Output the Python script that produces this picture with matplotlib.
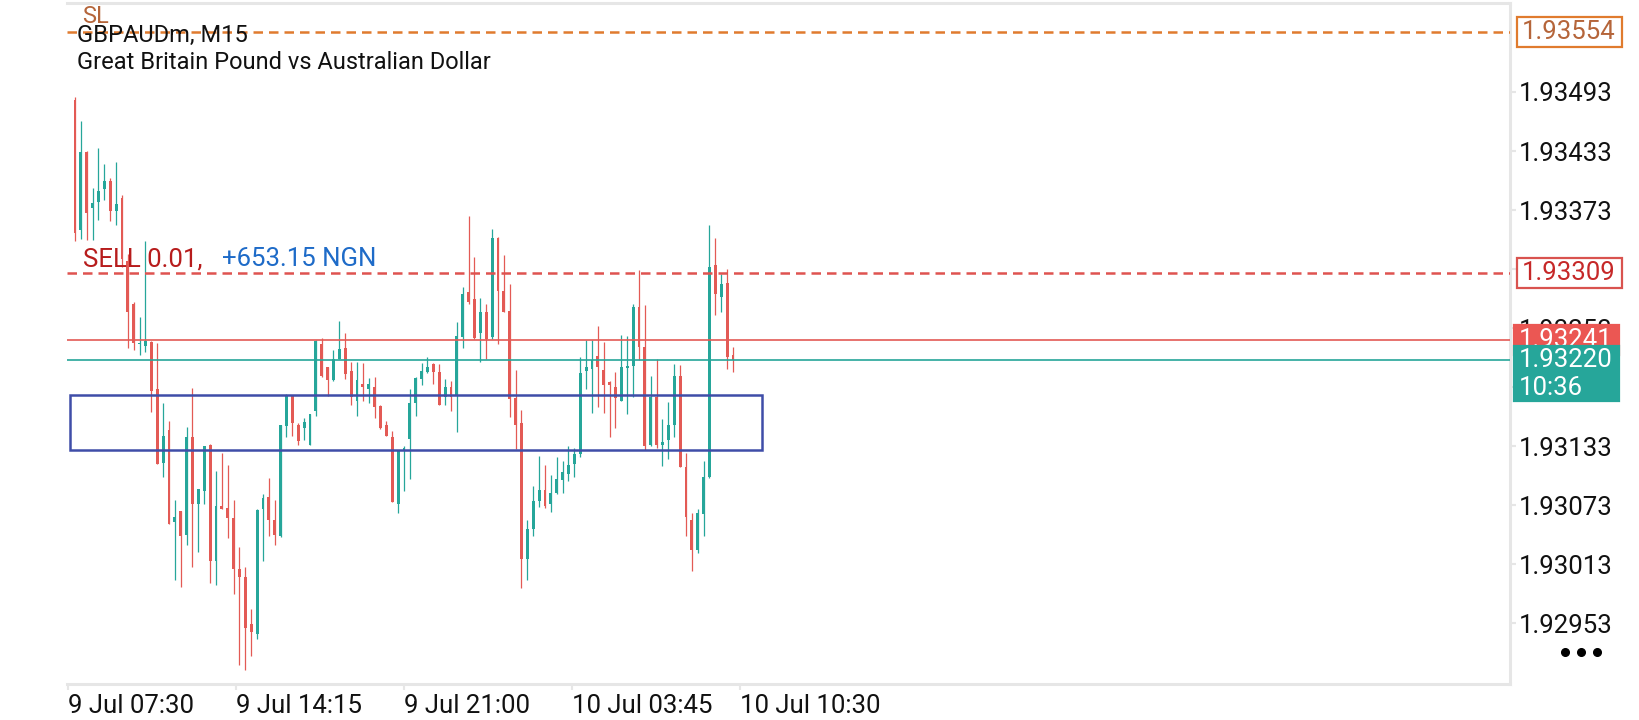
import numpy as np
import matplotlib.pyplot as plt
import matplotlib.transforms as mtransforms
from matplotlib.patches import Rectangle
from matplotlib.lines import Line2D

plt.rcParams['font.family'] = ['Roboto', 'DejaVu Sans']

# GBPAUDm M15 candles (oldest first)
opens = [1.93485, 1.93353, 1.93432, 1.93375, 1.93381, 1.93394, 1.93402, 1.93372, 1.93385, 1.93321,
         1.93277, 1.93237, 1.93235, 1.93239, 1.93191, 1.93116, 1.93149, 1.93056, 1.93067, 1.93043,
         1.93142, 1.93074, 1.93087, 1.93134, 1.93016, 1.93072, 1.93070, 1.93060, 1.93008, 1.93000,
         1.92952, 1.92942, 1.93069, 1.93081, 1.93058, 1.93041, 1.93153, 1.93184, 1.93154, 1.93151,
         1.93134, 1.93169, 1.93237, 1.93213, 1.93200, 1.93221, 1.93233, 1.93209, 1.93179, 1.93196,
         1.93191, 1.93193, 1.93174, 1.93154, 1.93142, 1.93074, 1.93128, 1.93140, 1.93177, 1.93201,
         1.93208, 1.93216, 1.93208, 1.93183, 1.93193, 1.93184, 1.93244, 1.93290, 1.93282, 1.93248,
         1.93269, 1.93244, 1.93345, 1.93291, 1.93270, 1.93182, 1.93156, 1.93018, 1.93049, 1.93077,
         1.93088, 1.93074, 1.93085, 1.93098, 1.93105, 1.93115, 1.93125, 1.93209, 1.93211, 1.93225,
         1.93210, 1.93198, 1.93193, 1.93179, 1.93212, 1.93214, 1.93274, 1.93234, 1.93134, 1.93183,
         1.93134, 1.93139, 1.93154, 1.93204, 1.93112, 1.93058, 1.93027, 1.93064, 1.93101, 1.93317,
         1.93285, 1.93299, 1.93226]
highs = [1.93488, 1.93463, 1.93433, 1.93395, 1.93436, 1.93420, 1.93406, 1.93422, 1.93388, 1.93328,
         1.93279, 1.93264, 1.93341, 1.93240, 1.93238, 1.93177, 1.93158, 1.93078, 1.93067, 1.93152,
         1.93192, 1.93089, 1.93133, 1.93135, 1.93108, 1.93126, 1.93114, 1.93078, 1.93030, 1.93010,
         1.92967, 1.93069, 1.93084, 1.93100, 1.93078, 1.93154, 1.93186, 1.93185, 1.93156, 1.93162,
         1.93166, 1.93241, 1.93243, 1.93213, 1.93231, 1.93260, 1.93248, 1.93218, 1.93218, 1.93217,
         1.93202, 1.93203, 1.93175, 1.93158, 1.93148, 1.93129, 1.93133, 1.93191, 1.93203, 1.93217,
         1.93224, 1.93217, 1.93216, 1.93201, 1.93199, 1.93259, 1.93295, 1.93367, 1.93325, 1.93284,
         1.93277, 1.93354, 1.93346, 1.93327, 1.93298, 1.93210, 1.93170, 1.93058, 1.93092, 1.93123,
         1.93114, 1.93104, 1.93122, 1.93118, 1.93133, 1.93131, 1.93224, 1.93241, 1.93241, 1.93255,
         1.93239, 1.93199, 1.93208, 1.93246, 1.93245, 1.93277, 1.93312, 1.93276, 1.93204, 1.93221,
         1.93160, 1.93178, 1.93216, 1.93215, 1.93126, 1.93065, 1.93069, 1.93118, 1.93358, 1.93345,
         1.93308, 1.93313, 1.93234]
lows = [1.93341, 1.93344, 1.93342, 1.93342, 1.93363, 1.93383, 1.93362, 1.93358, 1.93315, 1.93233,
        1.93231, 1.93226, 1.93229, 1.93168, 1.93115, 1.93101, 1.93054, 1.92997, 1.92990, 1.93032,
        1.93010, 1.93025, 1.93074, 1.92994, 1.92992, 1.93069, 1.93039, 1.92983, 1.92910, 1.92905,
        1.92919, 1.92937, 1.93016, 1.93041, 1.93032, 1.93040, 1.93142, 1.93143, 1.93134, 1.93139,
        1.93134, 1.93164, 1.93203, 1.93184, 1.93199, 1.93221, 1.93201, 1.93175, 1.93164, 1.93179,
        1.93177, 1.93162, 1.93150, 1.93143, 1.93076, 1.93065, 1.93087, 1.93099, 1.93164, 1.93195,
        1.93207, 1.93196, 1.93175, 1.93175, 1.93169, 1.93147, 1.93233, 1.93277, 1.93242, 1.93218,
        1.93221, 1.93242, 1.93237, 1.93269, 1.93163, 1.93130, 1.92989, 1.92997, 1.93042, 1.93071,
        1.93070, 1.93066, 1.93084, 1.93085, 1.93097, 1.93102, 1.93122, 1.93191, 1.93167, 1.93173,
        1.93167, 1.93142, 1.93151, 1.93179, 1.93166, 1.93183, 1.93220, 1.93129, 1.93133, 1.93131,
        1.93113, 1.93120, 1.93142, 1.93112, 1.93041, 1.93006, 1.93024, 1.93041, 1.93100, 1.93266,
        1.93269, 1.93211, 1.93208]
closes = [1.93350, 1.93432, 1.93370, 1.93380, 1.93392, 1.93403, 1.93372, 1.93379, 1.93323, 1.93269,
          1.93238, 1.93238, 1.93240, 1.93189, 1.93115, 1.93143, 1.93054, 1.93061, 1.93041, 1.93142,
          1.93074, 1.93089, 1.93133, 1.93016, 1.93072, 1.93069, 1.93060, 1.93008, 1.93000, 1.92948,
          1.92944, 1.93068, 1.93080, 1.93058, 1.93043, 1.93154, 1.93184, 1.93156, 1.93138, 1.93157,
          1.93166, 1.93240, 1.93204, 1.93200, 1.93221, 1.93232, 1.93206, 1.93183, 1.93200, 1.93193,
          1.93196, 1.93173, 1.93151, 1.93143, 1.93076, 1.93129, 1.93131, 1.93177, 1.93202, 1.93209,
          1.93213, 1.93208, 1.93175, 1.93193, 1.93183, 1.93245, 1.93288, 1.93279, 1.93243, 1.93269,
          1.93242, 1.93345, 1.93291, 1.93269, 1.93181, 1.93154, 1.93018, 1.93049, 1.93077, 1.93088,
          1.93072, 1.93085, 1.93099, 1.93107, 1.93114, 1.93125, 1.93207, 1.93213, 1.93220, 1.93213,
          1.93195, 1.93195, 1.93182, 1.93213, 1.93214, 1.93274, 1.93234, 1.93133, 1.93183, 1.93134,
          1.93137, 1.93154, 1.93204, 1.93112, 1.93061, 1.93027, 1.93065, 1.93102, 1.93315, 1.93288,
          1.93298, 1.93224, 1.93220]

# levels
sl_price = 1.93554
sell_price = 1.93309
ask_price = 1.93241
bid_price = 1.93220
countdown = "10:36"
zone_low, zone_high = 1.93129, 1.93185
zone_start, zone_end = -0.77, 116.9   # in bar index units

xtick_pos = [-1.19, 27.4, 56.0, 84.6, 113.2]
xtick_labels = ['9 Jul 07:30', '9 Jul 14:15', '9 Jul 21:00', '10 Jul 03:45', '10 Jul 10:30']
ytick_vals = [1.92953, 1.93013, 1.93073, 1.93133, 1.93193, 1.93253, 1.93313, 1.93373, 1.93433, 1.93493]

RED = '#E35A55'
TEAL = '#26A69A'
GREY = '#E6E6E6'
FS = 18.5

fig = plt.figure(figsize=(16.4, 7.2), dpi=100)
ax = fig.add_axes([67 / 1640, 36 / 720, 1443 / 1640, 681 / 720])
ymin, ymax = 1.92891, 1.935835
ax.set_xlim(-1.36, 244.26)
ax.set_ylim(ymin, ymax)
px = (ymax - ymin) / 681  # price per pixel

o = np.array(opens); h = np.array(highs); l = np.array(lows); c = np.array(closes)
x = np.arange(len(o))
cols = np.where(c >= o, TEAL, RED)
ax.vlines(x, l, h, colors=cols, lw=0.9, zorder=2)
body_lo = np.minimum(o, c)
body_h = np.maximum(np.abs(c - o), px * 1.2)
ax.bar(x, body_h, bottom=body_lo, width=0.5, color=cols, lw=0, zorder=2)

# order / price lines
ax.axhline(sl_price, color='#E07B2E', lw=1.8, dashes=(3.8, 2.4), zorder=3)
ax.axhline(sell_price, color='#DF5350', lw=1.8, dashes=(3.8, 2.4), zorder=3)
ax.axhline(ask_price, color=RED, lw=1.2, zorder=3)
ax.axhline(bid_price, color=TEAL, lw=1.2, zorder=3)

ax.add_patch(Rectangle((zone_start, zone_low), zone_end - zone_start, zone_high - zone_low,
                       fill=False, ec='#3F4DA8', lw=1.8, zorder=4))

trans = mtransforms.blended_transform_factory(ax.transAxes, ax.transData)
ax.text(16 / 1443, sell_price + 6.5 * px, 'SELL 0.01,', color='#B71C1C', fontsize=18.5,
        va='baseline', transform=trans, zorder=5)
ax.text(155 / 1443, sell_price + 6.5 * px, '+653.15 NGN', color='#1E6BC8', fontsize=18.5,
        va='baseline', transform=trans, zorder=5)

# axes styling
for s in ['top', 'right', 'bottom']:
    ax.spines[s].set_color(GREY)
    ax.spines[s].set_linewidth(2.2)
ax.spines['left'].set_visible(False)
ax.yaxis.tick_right()
ax.set_yticks(ytick_vals)
ax.set_yticklabels([f'{v:.5f}' for v in ytick_vals])
ax.tick_params(axis='y', length=4, width=1.5, color=GREY, pad=2, labelsize=FS, labelcolor='#111111')
ax.set_xticks(xtick_pos)
ax.set_xticklabels(xtick_labels)
ax.tick_params(axis='x', length=4, width=1.5, color=GREY, pad=3.5, labelsize=FS, labelcolor='#111111')
for lab in ax.get_xticklabels():
    lab.set_ha('left')


def tag(price, text, x0, top_px, bot_px, face, edge, tcolor, z):
    ax.add_patch(Rectangle((x0, price - bot_px * px), 105 / 1443, (top_px + bot_px) * px,
                           transform=trans, fc=face, ec=edge, lw=1.6, clip_on=False, zorder=z))
    ax.text(x0 + 5 / 1443, price, text, transform=trans, ha='left', va='center',
            fontsize=FS, color=tcolor, clip_on=False, zorder=z + 0.5)


tag(sl_price, f'{sl_price:.5f}', 1450 / 1443, 15, 15, 'white', '#E07B2E', '#B5653A', 6)
tag(sell_price, f'{sell_price:.5f}', 1450 / 1443, 15, 15, 'white', '#D9534F', '#C62828', 6)
tag(ask_price, f'{ask_price:.5f}', 1447 / 1443, 15, 15, '#EB5753', '#EB5753', 'white', 7)
tag(bid_price, f'{bid_price:.5f}', 1447 / 1443, 14, 41, TEAL, TEAL, 'white', 8)
ax.text((1447 + 5) / 1443, bid_price - 28 * px, countdown, transform=trans, ha='left',
        va='center', fontsize=FS, color='white', clip_on=False, zorder=9)

# header texts
fig.text(82 / 1640, 1 - 23 / 720, 'SL', color='#B5653A', fontsize=17, va='baseline')
fig.text(77 / 1640, 1 - 42 / 720, 'GBPAUDm, M15', color='#111111', fontsize=17, va='baseline')
fig.text(77 / 1640, 1 - 69 / 720, 'Great Britain Pound vs Australian Dollar', color='#111111',
         fontsize=17, va='baseline')

fig.add_artist(Line2D([1565 / 1640, 1581 / 1640, 1597 / 1640], [1 - 652 / 720] * 3,
                      transform=fig.transFigure, marker='o', ms=5.5, ls='none', color='black'))

fig.savefig('out.png', dpi=100, facecolor='white')
